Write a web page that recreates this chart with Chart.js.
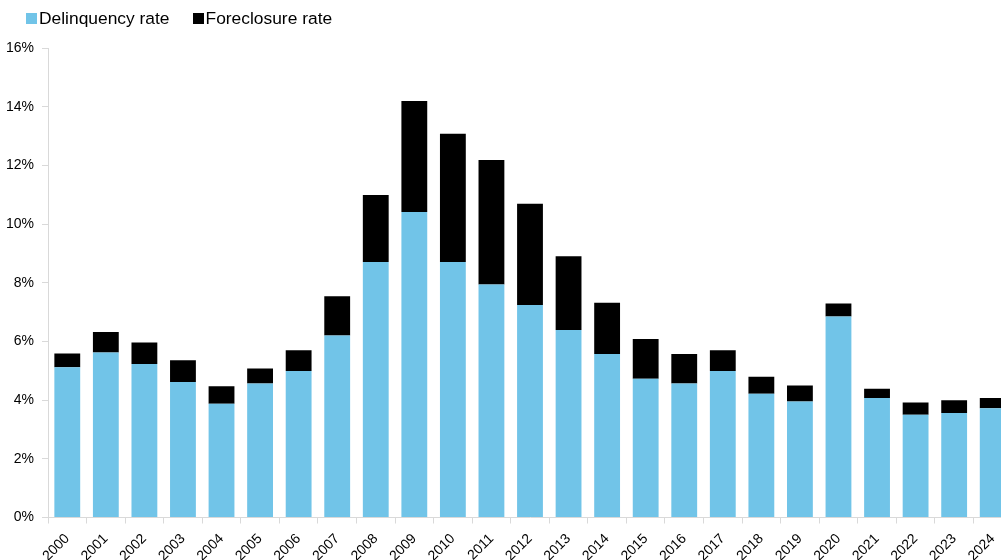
<!DOCTYPE html>
<html>
<head>
<meta charset="utf-8">
<script src="https://cdn.jsdelivr.net/npm/chart.js@4/dist/chart.umd.min.js"></script>
<style>
  html, body { margin: 0; padding: 0; background: #fff; overflow: hidden; }
  .wrap { position: relative; width: 1012px; height: 560px; }
  #legend { position: absolute; left: 26px; top: 8px; display: flex; align-items: center;
            font-family: "Liberation Sans", Arial, sans-serif; font-size: 17.4px; color: #000; }
  #legend .item { display: flex; align-items: center; margin-right: 23px; }
  #legend .box { width: 11px; height: 11px; margin-right: 2px; }
</style>
</head>
<body>
<div class="wrap">
  <canvas id="chart" width="1012" height="560"></canvas>
  <div id="legend"></div>
</div>
<script>
// --- data ---
const years = ['2000', '2001', '2002', '2003', '2004', '2005', '2006', '2007', '2008', '2009', '2010', '2011', '2012',
               '2013', '2014', '2015', '2016', '2017', '2018', '2019', '2020', '2021', '2022', '2023', '2024'];
const delinquencyRate = [5.12, 5.62, 5.23, 4.62, 3.88, 4.57, 4.99, 6.20, 8.71, 10.41, 8.71, 7.94, 7.24,
                         6.39, 5.57, 4.73, 4.57, 4.99, 4.22, 3.95, 6.85, 4.07, 3.50, 3.56, 3.72];
const foreclosureRate = [0.47, 0.70, 0.73, 0.74, 0.59, 0.51, 0.71, 1.34, 2.28, 3.78, 4.37, 4.24, 3.45,
                         2.51, 1.75, 1.35, 1.00, 0.71, 0.58, 0.55, 0.44, 0.32, 0.42, 0.44, 0.35];
const yTicks = [0, 2, 4, 6, 8, 10, 12, 14, 16];

const BLUE = '#71c4e8';
const AXIS = '#d9d9d9';
const FONT = '"Liberation Sans", Arial, sans-serif';

const ctx = document.getElementById('chart').getContext('2d');
const chart = new Chart(ctx, {
  type: 'bar',
  data: {
    labels: years,
    datasets: [
      { label: 'Delinquency rate', data: delinquencyRate, backgroundColor: BLUE, borderWidth: 0 },
      { label: 'Foreclosure rate', data: foreclosureRate, backgroundColor: '#000000', borderWidth: 0 }
    ]
  },
  options: {
    responsive: false,
    animation: false,
    layout: { padding: { top: 48, right: 0, left: 0, bottom: 0 } },
    datasets: { bar: { categoryPercentage: 1, barPercentage: 0.67 } },
    plugins: { legend: { display: false }, tooltip: { enabled: false } },
    scales: {
      x: {
        stacked: true,
        border: { display: true, color: AXIS, width: 1 },
        grid: { offset: true, drawOnChartArea: false, drawTicks: true, tickLength: 6, color: AXIS },
        ticks: { minRotation: 45, maxRotation: 45, autoSkip: false, padding: 7,
                 color: '#000', font: { family: FONT, size: 14 } },
        afterFit: (scale) => { scale.height = 42.5; }
      },
      y: {
        stacked: true,
        min: 0, max: 16,
        afterBuildTicks: (scale) => { scale.ticks = yTicks.map(v => ({ value: v })); },
        border: { display: true, color: AXIS, width: 1 },
        grid: { drawOnChartArea: false, drawTicks: true, tickLength: 6, color: AXIS },
        ticks: { padding: 8, color: '#000', font: { family: FONT, size: 14 },
                 callback: (v) => v + '%' },
        afterFit: (scale) => { scale.width = 48; }
      }
    }
  }
});

// --- legend built from datasets ---
const legendEl = document.getElementById('legend');
chart.data.datasets.forEach(ds => {
  const item = document.createElement('div');
  item.className = 'item';
  item.innerHTML = `<span class="box" style="background:${ds.backgroundColor}"></span><span>${ds.label}</span>`;
  legendEl.appendChild(item);
});
</script>
</body>
</html>
